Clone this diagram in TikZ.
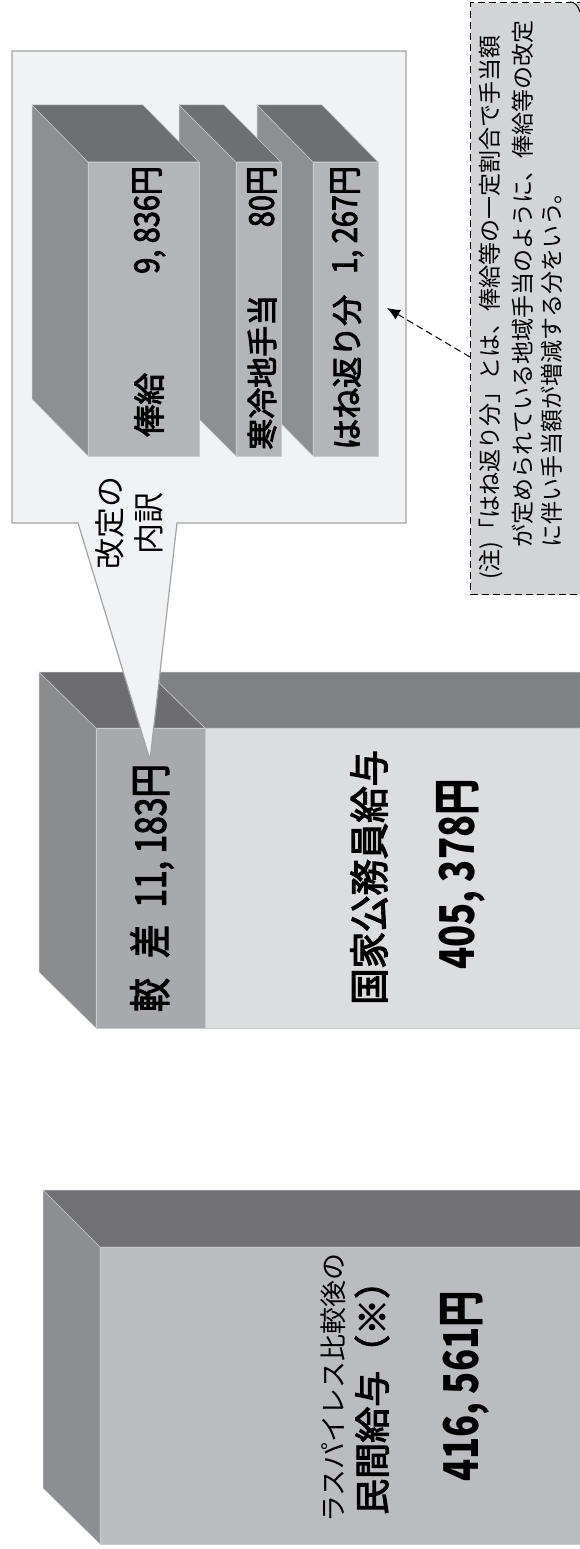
\documentclass[tikz,border=0pt]{standalone}
\usepackage{fontspec}
\setmainfont{Noto Sans CJK JP}
\newfontfamily\medfont[FakeBold=3]{Noto Sans CJK JP}
\usepackage{graphicx}
\usetikzlibrary{arrows.meta}
\definecolor{edgec}{HTML}{C9CACC}
\definecolor{topA}{HTML}{727276}
\definecolor{sideA}{HTML}{8D8E92}
\definecolor{frontA}{HTML}{BBBCBF}
\definecolor{topB}{HTML}{808185}
\definecolor{topBd}{HTML}{6D6D71}
\definecolor{sideB}{HTML}{8B8C90}
\definecolor{frontBd}{HTML}{A8A9AC}
\definecolor{frontB}{HTML}{DCDDDF}
\definecolor{callfill}{HTML}{F1F2F4}
\definecolor{calldraw}{HTML}{A3A4A6}
\definecolor{topS}{HTML}{6E6F73}
\definecolor{sideS}{HTML}{8E8F93}
\definecolor{frontS}{HTML}{B4B5B8}
\definecolor{notefill}{HTML}{D3D4D6}
\newcommand{\setfs}[1]{\fontsize{#1}{#1}\selectfont}
\newcommand{\ibar}[3]{%
  \draw[face,fill=sideS] (#1,105) -- (#2,162) -- (#2,456) -- (#1,399) -- cycle;
  \draw[face,fill=topS] (#1,105) -- ({#3-(#2-#1)},105) -- (#3,162) -- (#2,162) -- cycle;
  \draw[face,fill=frontS] (#2,162) rectangle (#3,456);}
\begin{document}
\begin{tikzpicture}[x=1pt,y=-1pt,
  face/.style={draw=edgec,line width=0.5pt},
  rtxt/.style={inner sep=0pt,rotate=90,text=black}]
\useasboundingbox (0,0) rectangle (580,1549);
\fill[white] (0,0) rectangle (580,1549);
% bar 1 (private)
\draw[face,fill=sideA] (43,1190) -- (100,1247) -- (100,1544) -- (43,1488) -- cycle;
\draw[face,fill=topA] (43,1190) -- (600,1190) -- (600,1247) -- (100,1247) -- cycle;
\draw[face,fill=frontA] (100,1247) rectangle (600,1544);
\node[rtxt,anchor=west,font=\setfs{27}] (las) at (333,1523) {ラスパイレス比較後の};
\node[rtxt,anchor=west,font=\medfont\setfs{36}] (min) at (372,1515) {民間給与（※）};
\node[rtxt,anchor=west,font=\setfs{48}\bfseries] (v1) at (465,1482) {\scalebox{0.76}[1]{416, 561円}};
% bar 2 (national)
\draw[face,fill=sideB] (39,672) -- (96,728) -- (96,1028) -- (39,972) -- cycle;
\draw[face,fill=topBd] (39,672) -- (148,672) -- (205,728) -- (96,728) -- cycle;
\draw[face,fill=topB] (148,672) -- (600,672) -- (600,728) -- (205,728) -- cycle;
\draw[face,fill=frontBd] (96,728) rectangle (205,1028);
\draw[face,fill=frontB] (205,728) rectangle (600,1028);
\node[rtxt,anchor=west,font=\medfont\setfs{42}] (kakusa) at (152,1012) {\scalebox{0.8}[1]{較\hspace{0.6em}差\hspace{0.5em}11, 183円}};
\node[rtxt,anchor=west,font=\medfont\setfs{40}] (koku) at (369,1005) {\scalebox{0.91}[1]{国家公務員給与}};
\node[rtxt,anchor=west,font=\setfs{48}\bfseries] (v2) at (461,970) {\scalebox{0.76}[1]{405, 378円}};
% callout
\draw[fill=callfill,draw=calldraw,line width=1.2pt] (12,51) -- (406,51) -- (406,523) -- (177,523) -- (150,760) -- (78,523) -- (12,523) -- cycle;
\node[rtxt,align=center,font=\fontsize{31}{39}\selectfont] (naiyaku) at (129.5,523) {改定の\\内訳};
% inner bars
\ibar{257}{313}{378}
\ibar{179}{236}{281}
\ibar{32}{88}{199}
\node[rtxt,anchor=west,font=\medfont\setfs{31}] (hane) at (347,450) {はね返り分};
\node[rtxt,anchor=east,font=\medfont\setfs{34}] (hanev) at (347,166) {\scalebox{0.85}[1]{1, 267円}};
\node[rtxt,anchor=west,font=\medfont\setfs{31}] (kan) at (262,450) {寒冷地手当};
\node[rtxt,anchor=east,font=\medfont\setfs{34}] (kanv) at (262,166) {\scalebox{0.85}[1]{80円}};
\node[rtxt,anchor=west,font=\medfont\setfs{32}] (hou) at (149,437) {俸給};
\node[rtxt,anchor=east,font=\medfont\setfs{34}] (houv) at (149,166) {\scalebox{0.85}[1]{9, 836円}};
% note
\node[draw,dash pattern=on 7pt off 4pt,fill=notefill,line width=1.1pt,minimum width=140pt,minimum height=592pt,inner sep=0pt,anchor=north west] (note) at (470,2) {};
\draw[line width=1pt] (570,2) .. controls (575,2) and (578,6) .. (580,12);
\node[rtxt,anchor=west,font=\setfs{23}] (n1) at (491,580) {(注)「はね返り分」とは、俸給等の一定割合で手当額};
\node[rtxt,anchor=west,font=\setfs{23}] (n2) at (523,548) {が定められている地域手当のように、俸給等の改定};
\node[rtxt,anchor=west,font=\setfs{23}] (n3) at (552,548) {に伴い手当額が増減する分をいう。};
% arrow
\coordinate (as) at (470,357);
\coordinate (ae) at (387,308);
\draw[dash pattern=on 7pt off 4pt,line width=1pt,-{Latex[length=13pt,width=11pt]}] (as) -- (ae);
\end{tikzpicture}
\end{document}
